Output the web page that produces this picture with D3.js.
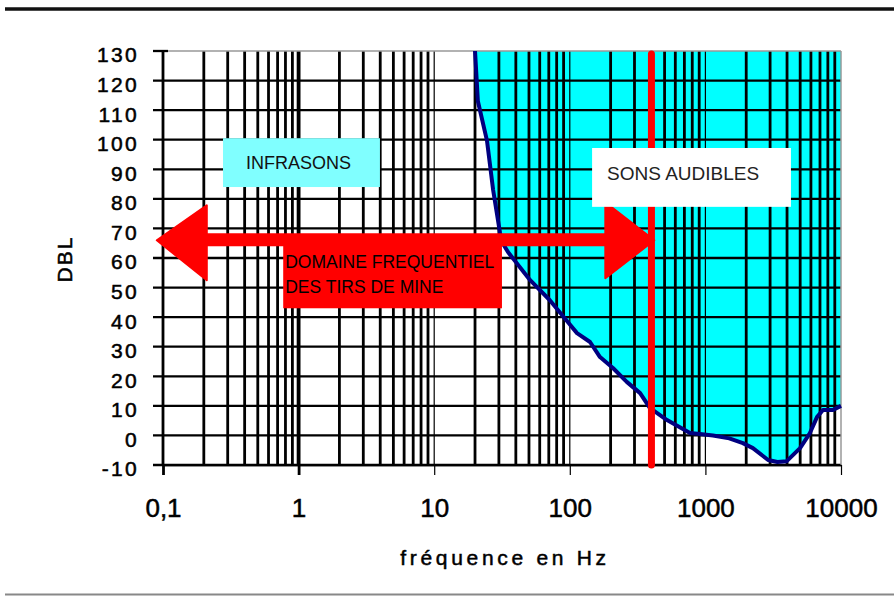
<!DOCTYPE html>
<html><head><meta charset="utf-8">
<script src="https://cdn.jsdelivr.net/npm/d3@7"></script>
<style>body{margin:0;background:#fff}svg{display:block}text{font-family:"Liberation Sans",Arial,sans-serif}</style>
</head><body><svg id="c" width="894" height="597"></svg>
<script>
// ---- data ----
const yTickValues = [-10,0,10,20,30,40,50,60,70,80,90,100,110,120,130];
const yTickLabels = ["-10","0","10","20","30","40","50","60","70","80","90","100","110","120","130"];
const xTickValues = [0.1,1,10,100,1000,10000];
const xTickLabels = ["0,1","1","10","100","1000","10000"];
const thresholdFreq = [20,21,24.5,27.2,30.6,32,35,51,71,97,113,141,167,208,263,330,389,521,770,912,1138,1500,1890,2240,2900,3400,3980,4990,5900,6650,7360,8710,10000];
const thresholdDb   = [130,113,99.7,83,68.4,65,62,52.5,45.8,38.3,34.6,31.6,26.5,22.8,18.1,14.3,9.3,5.2,0.8,0.5,0,-1,-2.6,-4.3,-8.3,-9,-8.7,-4.3,0.8,6.2,8.6,8.6,10];
const audibleLimitHz = [400];
const mineBandHz = [0.09, 420];     // arrow tips
const mineBandDb = [66];
const mineLabelLines = ["DOMAINE FREQUENTIEL","DES TIRS DE MINE"];
const mineLabelBoxHz = [0.77, 31.6]; const mineLabelBoxDb = [64.4, 43];
const infraBoxHz = [0.277, 3.98]; const infraBoxDb = [100.5, 84];
const audibleBoxHz = [146, 4275]; const audibleBoxDb = [97.2, 77.3];
const xTitle = "fréquence en Hz", yTitle = "DBL";

// ---- scales ----
const svg = d3.select("#c");
const x = d3.scaleLog().domain([0.1,10000]).range([163,841]);
const y = d3.scaleLinear().domain([-10,130]).range([465,51]);
const FONT = '"Liberation Sans",Arial,sans-serif';

// frame lines
svg.append("line").attr("x1",5).attr("x2",894).attr("y1",9).attr("y2",9).attr("stroke","#111").attr("stroke-width",3.5);
svg.append("line").attr("x1",5).attr("x2",894).attr("y1",594.5).attr("y2",594.5).attr("stroke","#888").attr("stroke-width",2);

// cyan audible area
const pts = thresholdFreq.map((f,i)=>[x(f),y(thresholdDb[i])]);
const areaPts = pts.concat([[x(10000),y(130)],[x(20),y(130)]]);
svg.append("path").attr("d",d3.line()(areaPts)+"Z").attr("fill","#00ffff");

// vertical grid
const vgrid = [];
for (let k=-1;k<=3;k++) for (let n=1;n<=9;n++) vgrid.push(n*Math.pow(10,k));
vgrid.forEach(v=>{
  const isDec = Math.abs(Math.log10(v)-Math.round(Math.log10(v)))<1e-9;
  let w = 2.8;
  if (isDec && v>=10) w = 1.2;
  if (v===1) w = 3.8;
  svg.append("line").attr("x1",x(v)).attr("x2",x(v)).attr("y1",y(130)).attr("y2",y(-10))
    .attr("stroke","#000").attr("stroke-width",w);
});
// horizontal grid
yTickValues.forEach(v=>{
  if (v===130) return;
  svg.append("line").attr("x1",153).attr("x2",x(10000)).attr("y1",y(v)).attr("y2",y(v))
    .attr("stroke","#000").attr("stroke-width",2.3);
});
// plot border top/right
svg.append("line").attr("x1",163).attr("x2",x(10000)).attr("y1",y(130)).attr("y2",y(130)).attr("stroke","#999").attr("stroke-width",1.5);
svg.append("line").attr("x1",153).attr("x2",168).attr("y1",y(130)).attr("y2",y(130)).attr("stroke","#000").attr("stroke-width",2.3);
svg.append("line").attr("x1",x(10000)).attr("x2",x(10000)).attr("y1",y(130)).attr("y2",y(-10)).attr("stroke","#999").attr("stroke-width",1.5);

// axes
const xAxis = d3.axisBottom(x).tickValues(xTickValues).tickFormat((d,i)=>xTickLabels[i]).tickSize(10).tickSizeOuter(0);
const gx = svg.append("g").attr("transform",`translate(0,${y(-10)})`).call(xAxis);
gx.select(".domain").attr("stroke","#000").attr("stroke-width",1.5);
gx.selectAll(".tick line").attr("stroke","#000").attr("stroke-width",d=>d===1||d===0.1?2.8:1.2);
gx.selectAll(".tick text").attr("font-size",26).attr("fill","#000").attr("stroke","#000").attr("stroke-width",0.5)
  .attr("font-family",FONT).attr("y",52).attr("dy",0);

const yAxis = d3.axisLeft(y).tickValues(yTickValues).tickFormat((d,i)=>yTickLabels[i]).tickSize(0).tickSizeOuter(0);
const gy = svg.append("g").attr("transform",`translate(${x(0.1)},0)`).call(yAxis);
gy.select(".domain").remove();
gy.selectAll(".tick text").attr("font-size",21).attr("letter-spacing","2.3px").attr("fill","#000").attr("stroke","#000").attr("stroke-width",0.5)
  .attr("font-family",FONT).attr("x",-24).attr("dy","0.52em");

// threshold curve
svg.append("path").attr("d",d3.line()(pts)).attr("fill","none").attr("stroke","#000080").attr("stroke-width",4).attr("stroke-linejoin","round");

// red vertical limit
svg.append("line").attr("x1",x(audibleLimitHz[0])).attr("x2",x(audibleLimitHz[0]))
  .attr("y1",y(130)+3).attr("y2",y(-10)).attr("stroke","#ff0000").attr("stroke-width",7).attr("stroke-linecap","round");

// red double arrow
const ay = y(mineBandDb[0]);
const xl = x(mineBandHz[0]), xr = x(mineBandHz[1]);
svg.append("rect").attr("x",xl+30).attr("y",ay-7).attr("width",xr-xl-60).attr("height",13).attr("fill","#ff0000");
svg.append("path").attr("d",`M${xl},${ay} L${xl+50},${ay-35} L${xl+50},${ay+40} Z`).attr("fill","#ff0000").attr("stroke","#ff0000").attr("stroke-width",2).attr("stroke-linejoin","round");
svg.append("path").attr("d",`M${xr},${ay} L${xr-49},${ay-38} L${xr-49},${ay+38} Z`).attr("fill","#ff0000").attr("stroke","#ff0000").attr("stroke-width",2).attr("stroke-linejoin","round");

// mine label box
const mx0 = x(mineLabelBoxHz[0]), mx1 = x(mineLabelBoxHz[1]);
const my0 = y(mineLabelBoxDb[0]), my1 = y(mineLabelBoxDb[1]);
svg.append("rect").attr("x",mx0).attr("y",my0).attr("width",mx1-mx0).attr("height",my1-my0).attr("fill","#ff0000");
mineLabelLines.forEach((t,i)=>{
  svg.append("text").attr("x",mx0+2).attr("y",my0+23+i*25).attr("font-size",17.5).attr("fill","#000").text(t);
});

// infrasons box
const ix0 = x(infraBoxHz[0]), ix1 = x(infraBoxHz[1]), iy0 = y(infraBoxDb[0]), iy1 = y(infraBoxDb[1]);
svg.append("rect").attr("x",ix0).attr("y",iy0).attr("width",ix1-ix0).attr("height",iy1-iy0).attr("fill","#80ffff");
svg.append("text").attr("x",ix0+23).attr("y",iy0+30.5).attr("font-size",18).attr("fill","#111").text("INFRASONS");

// sons audibles box
const sx0 = x(audibleBoxHz[0]), sx1 = x(audibleBoxHz[1]), sy0 = y(audibleBoxDb[0]), sy1 = y(audibleBoxDb[1]);
svg.append("rect").attr("x",sx0).attr("y",sy0).attr("width",sx1-sx0).attr("height",sy1-sy0).attr("fill","#ffffff");
svg.append("text").attr("x",sx0+15).attr("y",sy0+32).attr("font-size",19).attr("fill","#222").text("SONS AUDIBLES");

// axis titles
svg.append("text").attr("transform","translate(72,259) rotate(-90)").attr("text-anchor","middle")
  .attr("font-size",21).attr("stroke","#000").attr("stroke-width",0.5).attr("letter-spacing","2px").attr("fill","#000").text(yTitle);
svg.append("text").attr("x",505).attr("y",565).attr("text-anchor","middle")
  .attr("font-size",21).attr("stroke","#000").attr("stroke-width",0.5).attr("letter-spacing","3.7px").attr("fill","#000").text(xTitle);
</script></body></html>
